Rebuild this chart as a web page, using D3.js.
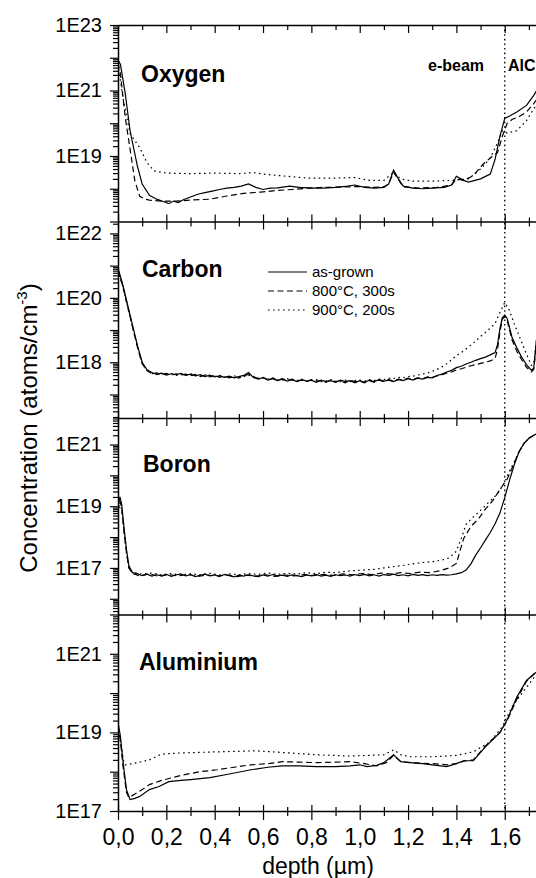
<!DOCTYPE html>
<html lang="en">
<head>
  <meta charset="UTF-8" />
  <title>SIMS depth profiles</title>
  <script src="https://d3js.org/d3.v7.min.js"></script>
  <style>
    body { margin: 0; background: #fff; }
    svg { display: block; font-family: Arial, "Liberation Sans", sans-serif; }
    .panel-label { font-size: 23px; font-weight: bold; }
    .note { font-size: 16px; font-weight: bold; }
    .legend text { font-size: 15px; }
  </style>
</head>
<body>

<svg width="536" height="878"></svg>

<script>
  // series names
  const seriesNames = ["as-grown", "800°C, 300s", "900°C, 200s"];
  const dashes = [null, "6,3.5", "1.6,3.4"];

  // Oxygen [depth µm, atoms/cm3]
  const oxygenAsGrown = [[0,8.3e21],[0.01,6.3e21],[0.03,8.0e20],[0.05,5.9e19],[0.08,5.0e18],[0.10,1.4e18],[0.13,6.3e17],[0.16,4.8e17],[0.19,4.0e17],[0.21,3.5e17],[0.23,4.2e17],[0.25,3.8e17],[0.27,4.6e17],[0.30,5.6e17],[0.33,6.8e17],[0.36,7.6e17],[0.39,8.5e17],[0.42,9.5e17],[0.45,1.05e18],[0.48,1.1e18],[0.51,1.2e18],[0.54,1.4e18],[0.57,1.1e18],[0.60,9.5e17],[0.63,1.05e18],[0.66,1.07e18],[0.71,1.2e18],[0.75,1.1e18],[0.80,1.05e18],[0.85,1.05e18],[0.90,1.1e18],[0.95,1.2e18],[0.98,1.3e18],[1.02,1.1e18],[1.06,1.05e18],[1.10,1.1e18],[1.12,1.4e18],[1.14,3.7e18],[1.16,2.0e18],[1.18,1.2e18],[1.22,1.05e18],[1.26,1.0e18],[1.30,1.05e18],[1.35,1.1e18],[1.38,1.3e18],[1.40,2.4e18],[1.43,1.8e18],[1.45,1.6e18],[1.50,2.0e18],[1.54,2.8e18],[1.56,7.9e18],[1.58,4.0e19],[1.60,1.4e20],[1.62,1.66e20],[1.65,2.2e20],[1.69,3.5e20],[1.72,7.1e20],[1.74,1.26e21]];
  const oxygen800 = [[0,7.0e21],[0.01,3.2e21],[0.03,1.5e20],[0.05,1.6e19],[0.07,1.7e18],[0.09,5.9e17],[0.11,4.8e17],[0.13,4.5e17],[0.18,4.2e17],[0.24,4.2e17],[0.30,4.5e17],[0.38,4.8e17],[0.45,6.0e17],[0.52,7.2e17],[0.59,7.9e17],[0.66,8.9e17],[0.72,9.5e17],[0.79,1.05e18],[0.85,1.1e18],[0.92,1.12e18],[1.00,1.17e18],[1.06,1.1e18],[1.10,1.15e18],[1.12,1.4e18],[1.14,3.2e18],[1.16,1.9e18],[1.18,1.15e18],[1.25,1.05e18],[1.32,1.1e18],[1.38,1.3e18],[1.40,2.0e18],[1.43,1.8e18],[1.47,2.5e18],[1.51,5.6e18],[1.55,1.0e19],[1.57,1.26e19],[1.59,4.0e19],[1.61,1.0e20],[1.63,1.3e20],[1.66,1.6e20],[1.69,2.2e20],[1.72,4.0e20],[1.74,6.3e20]];
  const oxygen900 = [[0,6.3e21],[0.02,6.3e20],[0.05,4.8e19],[0.09,1.8e19],[0.12,6.3e18],[0.15,3.5e18],[0.20,3.0e18],[0.30,2.9e18],[0.40,3.0e18],[0.50,2.9e18],[0.56,3.1e18],[0.62,2.7e18],[0.70,2.4e18],[0.79,2.1e18],[0.88,2.1e18],[0.98,2.2e18],[1.04,1.8e18],[1.10,1.8e18],[1.14,3.2e18],[1.17,2.0e18],[1.22,1.7e18],[1.30,1.7e18],[1.38,1.8e18],[1.45,2.0e18],[1.50,4.0e18],[1.54,8.7e18],[1.57,2.5e19],[1.59,5.9e19],[1.61,5.0e19],[1.65,5.9e19],[1.69,1.2e20],[1.72,2.8e20],[1.74,4.0e20]];

  // Carbon
  const carbonAsGrown = [[0,8.3e20],[0.02,2.5e20],[0.05,2.9e19],[0.08,3.4e18],[0.10,1.0e18],[0.12,5.8e17],[0.14,4.8e17],[0.16,4.2e17],[0.18,4.6e17],[0.20,4.0e17],[0.22,4.4e17],[0.24,4.1e17],[0.26,4.5e17],[0.28,3.9e17],[0.30,4.3e17],[0.32,3.8e17],[0.34,4.1e17],[0.36,3.6e17],[0.38,4.0e17],[0.40,3.5e17],[0.42,3.8e17],[0.44,3.4e17],[0.46,3.7e17],[0.48,3.3e17],[0.50,3.6e17],[0.52,3.9e17],[0.54,4.8e17],[0.56,3.4e17],[0.58,3.0e17],[0.60,3.3e17],[0.62,2.8e17],[0.64,3.1e17],[0.66,2.7e17],[0.68,3.0e17],[0.70,2.6e17],[0.72,2.9e17],[0.74,2.5e17],[0.76,2.9e17],[0.78,2.6e17],[0.80,2.8e17],[0.82,2.4e17],[0.84,2.8e17],[0.86,2.5e17],[0.88,2.7e17],[0.90,2.4e17],[0.92,2.8e17],[0.94,2.5e17],[0.96,2.7e17],[0.98,2.3e17],[1.00,2.7e17],[1.02,2.4e17],[1.04,2.8e17],[1.06,2.5e17],[1.08,2.9e17],[1.10,2.6e17],[1.12,2.8e17],[1.14,2.5e17],[1.16,2.9e17],[1.18,2.7e17],[1.20,3.1e17],[1.22,2.8e17],[1.24,3.2e17],[1.26,3.0e17],[1.28,3.4e17],[1.30,3.3e17],[1.32,3.9e17],[1.34,4.3e17],[1.36,5.0e17],[1.38,5.6e17],[1.40,6.8e17],[1.42,7.5e17],[1.44,8.8e17],[1.46,1.0e18],[1.48,1.15e18],[1.50,1.3e18],[1.52,1.45e18],[1.54,1.7e18],[1.56,2.0e18],[1.57,3.5e18],[1.58,1.1e19],[1.59,2.4e19],[1.60,2.9e19],[1.61,2.3e19],[1.63,6.0e18],[1.65,2.8e18],[1.67,1.45e18],[1.69,8.5e17],[1.71,5.7e17],[1.72,6.5e17],[1.73,4.0e18],[1.74,2.0e19]];
  const carbon800 = [[0,7.5e20],[0.02,2.3e20],[0.05,2.6e19],[0.08,3.0e18],[0.10,9.0e17],[0.12,5.5e17],[0.14,4.4e17],[0.16,4.7e17],[0.18,4.1e17],[0.20,4.5e17],[0.22,3.9e17],[0.24,4.4e17],[0.26,4.0e17],[0.28,4.3e17],[0.30,3.8e17],[0.32,4.2e17],[0.34,3.6e17],[0.36,4.0e17],[0.38,3.5e17],[0.40,3.9e17],[0.42,3.4e17],[0.44,3.8e17],[0.46,3.3e17],[0.48,3.6e17],[0.50,3.2e17],[0.52,3.7e17],[0.54,4.3e17],[0.56,3.6e17],[0.58,3.1e17],[0.60,3.4e17],[0.62,2.9e17],[0.64,3.2e17],[0.66,2.8e17],[0.68,3.1e17],[0.70,2.7e17],[0.72,3.0e17],[0.74,2.6e17],[0.76,2.8e17],[0.78,2.5e17],[0.80,2.9e17],[0.82,2.6e17],[0.84,2.7e17],[0.86,2.4e17],[0.88,2.8e17],[0.90,2.5e17],[0.92,2.6e17],[0.94,2.3e17],[0.96,2.8e17],[0.98,2.5e17],[1.00,2.6e17],[1.02,2.3e17],[1.04,2.7e17],[1.06,2.4e17],[1.08,2.8e17],[1.10,2.5e17],[1.12,2.9e17],[1.14,2.6e17],[1.16,3.0e17],[1.18,2.8e17],[1.20,3.2e17],[1.22,2.9e17],[1.24,3.3e17],[1.26,3.1e17],[1.28,3.5e17],[1.30,3.4e17],[1.32,3.8e17],[1.34,4.1e17],[1.36,4.6e17],[1.38,5.0e17],[1.40,5.8e17],[1.42,6.3e17],[1.44,7.0e17],[1.46,7.8e17],[1.48,8.5e17],[1.50,9.2e17],[1.52,1.0e18],[1.54,1.1e18],[1.56,1.3e18],[1.57,2.5e18],[1.58,8.5e18],[1.59,2.2e19],[1.60,2.6e19],[1.61,2.0e19],[1.63,5.0e18],[1.65,2.2e18],[1.67,1.2e18],[1.69,7.0e17],[1.71,5.0e17],[1.72,6.0e17],[1.73,3.0e18],[1.74,1.5e19]];
  const carbon900 = [[0,7.0e20],[0.02,2.2e20],[0.05,2.5e19],[0.08,3.2e18],[0.10,9.5e17],[0.12,5.6e17],[0.14,4.5e17],[0.16,4.1e17],[0.18,4.4e17],[0.20,4.2e17],[0.22,4.5e17],[0.24,3.9e17],[0.26,4.2e17],[0.28,4.0e17],[0.30,4.4e17],[0.32,3.9e17],[0.34,3.7e17],[0.36,4.1e17],[0.38,3.7e17],[0.40,3.6e17],[0.42,4.0e17],[0.44,3.5e17],[0.46,3.4e17],[0.48,3.8e17],[0.50,3.4e17],[0.52,3.6e17],[0.54,4.0e17],[0.56,3.5e17],[0.58,3.2e17],[0.60,3.3e17],[0.62,3.0e17],[0.64,3.3e17],[0.66,2.9e17],[0.68,2.8e17],[0.70,3.1e17],[0.72,2.8e17],[0.74,2.7e17],[0.76,3.0e17],[0.78,2.6e17],[0.80,2.7e17],[0.82,2.9e17],[0.84,2.5e17],[0.86,2.6e17],[0.88,2.9e17],[0.90,2.6e17],[0.92,2.5e17],[0.94,2.8e17],[0.96,2.5e17],[0.98,2.7e17],[1.00,2.8e17],[1.02,2.6e17],[1.04,2.9e17],[1.06,2.7e17],[1.08,3.0e17],[1.10,2.9e17],[1.12,3.2e17],[1.14,3.1e17],[1.16,3.4e17],[1.18,3.3e17],[1.20,3.6e17],[1.22,3.7e17],[1.24,4.0e17],[1.26,4.3e17],[1.28,4.6e17],[1.30,5.2e17],[1.32,6.0e17],[1.34,7.2e17],[1.36,9.0e17],[1.38,1.2e18],[1.40,1.6e18],[1.42,2.0e18],[1.44,2.6e18],[1.46,3.4e18],[1.48,4.6e18],[1.50,6.3e18],[1.52,8.5e18],[1.54,1.15e19],[1.56,1.6e19],[1.58,3.5e19],[1.60,7.2e19],[1.62,4.0e19],[1.64,1.5e19],[1.66,6.5e18],[1.68,2.7e18],[1.70,1.2e18],[1.71,8.0e17],[1.72,9.0e17],[1.73,4.0e18],[1.74,2.0e19]];

  // Boron
  const boronAsGrown = [[0,1.0e19],[0.008,2.0e19],[0.015,1.2e19],[0.025,2.0e18],[0.035,4.0e17],[0.045,1.2e17],[0.06,7.0e16],[0.08,6.5e16],[0.10,5.6e16],[0.12,6.3e16],[0.14,5.4e16],[0.16,6.0e16],[0.18,5.5e16],[0.20,6.2e16],[0.22,5.3e16],[0.24,5.9e16],[0.26,6.4e16],[0.28,5.5e16],[0.30,6.0e16],[0.32,5.2e16],[0.34,5.8e16],[0.36,6.3e16],[0.38,5.5e16],[0.40,5.9e16],[0.42,5.3e16],[0.44,6.1e16],[0.46,5.6e16],[0.48,5.1e16],[0.50,5.8e16],[0.52,5.4e16],[0.54,6.0e16],[0.56,5.5e16],[0.58,5.2e16],[0.60,5.9e16],[0.62,5.4e16],[0.64,6.1e16],[0.66,5.5e16],[0.68,5.8e16],[0.70,5.3e16],[0.72,6.0e16],[0.74,5.6e16],[0.76,5.2e16],[0.78,5.9e16],[0.80,5.5e16],[0.82,6.2e16],[0.84,5.4e16],[0.86,5.8e16],[0.88,5.3e16],[0.90,6.0e16],[0.92,5.6e16],[0.94,5.9e16],[0.96,5.4e16],[0.98,6.1e16],[1.00,5.6e16],[1.02,6.2e16],[1.04,5.5e16],[1.06,6.0e16],[1.08,5.4e16],[1.10,6.1e16],[1.12,5.7e16],[1.14,6.3e16],[1.16,5.6e16],[1.18,6.0e16],[1.20,5.5e16],[1.22,6.2e16],[1.24,5.7e16],[1.26,6.1e16],[1.28,5.6e16],[1.30,6.0e16],[1.32,5.7e16],[1.34,6.1e16],[1.36,5.8e16],[1.38,6.0e16],[1.40,6.4e16],[1.42,7.0e16],[1.44,8.5e16],[1.46,1.35e17],[1.48,2.6e17],[1.50,4.5e17],[1.52,8.0e17],[1.54,1.4e18],[1.56,2.7e18],[1.58,6.0e18],[1.60,1.9e19],[1.62,7.0e19],[1.64,2.3e20],[1.66,6.0e20],[1.68,1.1e21],[1.70,1.6e21],[1.72,2.0e21],[1.74,2.4e21]];
  const boron800 = [[0,7.0e18],[0.008,1.5e19],[0.015,9.0e18],[0.025,1.5e18],[0.035,3.2e17],[0.045,1.0e17],[0.06,6.6e16],[0.09,5.5e16],[0.13,6.4e16],[0.17,5.3e16],[0.21,6.1e16],[0.25,5.5e16],[0.29,6.2e16],[0.33,5.3e16],[0.37,5.9e16],[0.41,5.4e16],[0.45,6.0e16],[0.49,5.2e16],[0.53,5.8e16],[0.57,5.4e16],[0.61,6.0e16],[0.65,5.3e16],[0.69,5.9e16],[0.73,5.5e16],[0.77,6.1e16],[0.81,5.6e16],[0.85,6.2e16],[0.89,5.7e16],[0.93,6.4e16],[0.97,6.0e16],[1.01,6.6e16],[1.05,6.1e16],[1.09,6.8e16],[1.13,6.3e16],[1.17,7.0e16],[1.21,6.6e16],[1.25,7.3e16],[1.29,7.0e16],[1.33,8.0e16],[1.37,1.0e17],[1.40,1.4e17],[1.43,9.0e17],[1.46,2.2e18],[1.49,3.8e18],[1.52,8.0e18],[1.55,1.5e19],[1.58,3.5e19],[1.61,7.5e19],[1.64,2.6e20],[1.66,6.0e20],[1.68,1.1e21],[1.70,1.6e21],[1.72,2.0e21],[1.74,2.4e21]];
  const boron900 = [[0,6.0e18],[0.008,1.3e19],[0.015,8.0e18],[0.025,1.4e18],[0.035,3.0e17],[0.045,1.0e17],[0.06,7.0e16],[0.10,6.3e16],[0.14,6.8e16],[0.18,6.0e16],[0.22,6.6e16],[0.26,5.8e16],[0.30,6.5e16],[0.34,6.0e16],[0.38,6.7e16],[0.42,5.9e16],[0.46,6.4e16],[0.50,6.0e16],[0.54,6.6e16],[0.58,6.1e16],[0.62,6.8e16],[0.66,6.2e16],[0.70,6.7e16],[0.74,6.3e16],[0.78,7.0e16],[0.82,6.5e16],[0.86,7.3e16],[0.90,7.0e16],[0.94,7.8e16],[0.98,8.2e16],[1.02,8.6e16],[1.06,9.0e16],[1.10,1.0e17],[1.14,1.1e17],[1.18,1.2e17],[1.22,1.35e17],[1.26,1.5e17],[1.30,1.6e17],[1.34,1.8e17],[1.37,2.1e17],[1.40,3.5e17],[1.42,9.0e17],[1.44,2.6e18],[1.47,4.5e18],[1.51,8.7e18],[1.54,1.5e19],[1.57,2.5e19],[1.60,6.0e19],[1.62,1.4e20],[1.64,2.8e20],[1.66,6.0e20],[1.68,1.1e21],[1.70,1.6e21],[1.72,2.0e21],[1.74,2.4e21]];

  // Aluminium
  const aluAsGrown = [[0,1.8e19],[0.01,8.0e18],[0.02,2.0e18],[0.035,3.5e17],[0.05,1.95e17],[0.07,2.1e17],[0.09,2.35e17],[0.13,3.5e17],[0.17,4.2e17],[0.21,5.6e17],[0.26,6.0e17],[0.30,6.3e17],[0.38,7.1e17],[0.45,8.5e17],[0.55,1.12e18],[0.62,1.3e18],[0.68,1.4e18],[0.75,1.4e18],[0.82,1.35e18],[0.90,1.35e18],[0.96,1.4e18],[1.00,1.5e18],[1.03,1.35e18],[1.07,1.45e18],[1.10,1.7e18],[1.14,2.7e18],[1.17,1.8e18],[1.21,1.7e18],[1.26,1.6e18],[1.30,1.5e18],[1.36,1.35e18],[1.40,1.6e18],[1.43,1.9e18],[1.47,1.9e18],[1.52,4.3e18],[1.58,9.8e18],[1.61,2.1e19],[1.65,7.9e19],[1.69,2.1e20],[1.73,3.4e20],[1.75,3.8e20]];
  const alu800 = [[0,1.5e19],[0.01,6.0e18],[0.02,1.5e18],[0.035,3.0e17],[0.045,2.2e17],[0.07,2.7e17],[0.10,3.5e17],[0.13,4.7e17],[0.18,6.0e17],[0.27,8.3e17],[0.34,1.0e18],[0.41,1.12e18],[0.48,1.3e18],[0.55,1.5e18],[0.62,1.6e18],[0.68,1.8e18],[0.75,1.75e18],[0.82,1.7e18],[0.90,1.75e18],[0.96,1.8e18],[1.02,1.6e18],[1.07,1.4e18],[1.11,1.7e18],[1.14,2.6e18],[1.17,1.8e18],[1.21,1.7e18],[1.30,1.6e18],[1.36,1.5e18],[1.40,1.6e18],[1.43,1.85e18],[1.47,2.0e18],[1.52,4.5e18],[1.58,1.0e19],[1.61,2.0e19],[1.65,7.0e19],[1.69,2.0e20],[1.73,3.5e20],[1.75,3.9e20]];
  const alu900 = [[0,1.5e19],[0.01,6.0e18],[0.025,1.6e18],[0.03,1.5e18],[0.06,1.6e18],[0.13,2.0e18],[0.18,2.8e18],[0.26,3.0e18],[0.41,3.2e18],[0.57,3.4e18],[0.71,3.0e18],[0.82,2.7e18],[0.96,2.5e18],[1.10,2.7e18],[1.14,3.6e18],[1.17,2.7e18],[1.21,2.4e18],[1.30,2.4e18],[1.40,2.6e18],[1.47,3.2e18],[1.54,5.8e18],[1.59,1.4e19],[1.63,4.5e19],[1.69,1.4e20],[1.73,2.9e20],[1.75,3.4e20]];

  // y domains (log10) and labelled decades per panel
  const elementNames = ["Oxygen", "Carbon", "Boron", "Aluminium"];
  const yExtents = [[17, 23], [16.27, 22.37], [15.49, 21.86], [17, 22]];
  const yLabelled = [[19, 21, 23], [18, 20, 22], [17, 19, 21], [17, 19, 21]];
  const depthTicks = d3.range(0, 18).map(i => i / 10);
  const depthLabels = d3.range(0, 9).map(i => i / 5);

  const svg = d3.select("svg");
  const left = 118, right = 541;
  const bounds = [25, 221.5, 418, 614.5, 811];

  const x = d3.scaleLinear().domain([0, 1.75]).range([left, right]);
  const line = (y) => d3.line().x(d => x(d[0])).y(d => y(d[1]));

  const panels = [
    [oxygenAsGrown, oxygen800, oxygen900],
    [carbonAsGrown, carbon800, carbon900],
    [boronAsGrown, boron800, boron900],
    [aluAsGrown, alu800, alu900]
  ];

  svg.append("clipPath").attr("id", "clip")
     .append("rect").attr("x", left).attr("y", bounds[0])
     .attr("width", right - left).attr("height", bounds[4] - bounds[0]);

  panels.forEach((series, i) => {
    const top = bounds[i], bottom = bounds[i + 1];
    const [lo, hi] = yExtents[i];
    const y = d3.scaleLog().domain([Math.pow(10, lo), Math.pow(10, hi)]).range([bottom, top]);

    // log ticks: decades and 2..9
    const ticks = [];
    for (let e = Math.floor(lo); e <= Math.ceil(hi); e++) {
      for (let m = 1; m <= 9; m++) {
        const lv = e + Math.log10(m);
        if (lv >= lo - 1e-6 && lv <= hi + 1e-6) ticks.push({ e: e, m: m, v: m * Math.pow(10, e) });
      }
    }
    const yAxis = svg.append("g")
      .attr("transform", `translate(${left},0)`)
      .call(d3.axisLeft(y).tickValues(ticks.map(t => t.v)).tickSize(8).tickPadding(8).tickSizeOuter(0)
        .tickFormat((v, k) => (ticks[k].m === 1 && yLabelled[i].includes(ticks[k].e)) ? "1E" + ticks[k].e : ""))
      .attr("font-family", null).attr("font-size", 20);
    yAxis.select(".domain").attr("stroke-width", 1.5);
    yAxis.selectAll(".tick line").attr("stroke-width", 1.2)
      .attr("x2", (v, k) => ticks[k].m === 1 ? -8 : -5);

    svg.append("g").attr("clip-path", "url(#clip)")
      .selectAll("path").data(series).enter().append("path")
      .attr("d", d => line(y)(d))
      .attr("fill", "none")
      .attr("stroke", "#000")
      .attr("stroke-width", 1.2)
      .attr("stroke-dasharray", (d, k) => dashes[k]);

    const lx = [141, 142, 143, 139][i];
    const ly = [82, 277, 472, 670][i];
    svg.append("text").attr("class", "panel-label").attr("x", lx).attr("y", ly).text(elementNames[i]);
  });

  // horizontal axes with crossing ticks
  bounds.forEach((yPos, i) => {
    const up = i === 0 ? [0, 0] : (i === 4 ? [6, 4] : [7, 4]);
    const down = i === 4 ? [9, 5] : [8, 5];
    const g = svg.append("g").attr("transform", `translate(0,${yPos})`)
      .call(d3.axisBottom(x).tickValues(depthTicks).tickFormat("").tickSizeOuter(0));
    g.select(".domain").attr("stroke-width", 1.5);
    g.selectAll(".tick line").attr("stroke-width", 1.2)
      .attr("y1", d => -(Math.round(d * 10) % 2 === 0 ? up[0] : up[1]))
      .attr("y2", d => (Math.round(d * 10) % 2 === 0 ? down[0] : down[1]));
  });

  // depth labels
  svg.append("g").attr("transform", `translate(0,${bounds[4]})`)
    .call(d3.axisBottom(x).tickValues(depthLabels).tickSize(9).tickPadding(9)
      .tickFormat(d => d3.format(".1f")(d).replace(".", ",")))
    .attr("font-family", null).attr("font-size", 23)
    .call(g => g.select(".domain").remove())
    .call(g => g.selectAll(".tick line").remove());

  // interface marker at 1.6 µm
  svg.append("line")
    .attr("x1", x(1.6)).attr("x2", x(1.6))
    .attr("y1", bounds[0]).attr("y2", bounds[4])
    .attr("stroke", "#000").attr("stroke-width", 1.3)
    .attr("stroke-dasharray", "1.6,3");

  svg.append("text").attr("class", "note").attr("x", 428).attr("y", 71).text("e-beam");
  svg.append("text").attr("class", "note").attr("x", 508).attr("y", 71).text("AlC");

  // legend
  const legend = svg.append("g").attr("class", "legend");
  seriesNames.forEach((name, k) => {
    const ly = 272 + k * 19;
    legend.append("line")
      .attr("x1", 268).attr("x2", 307).attr("y1", ly).attr("y2", ly)
      .attr("stroke", "#000").attr("stroke-width", 1.2)
      .attr("stroke-dasharray", dashes[k]);
    legend.append("text").attr("x", 312).attr("y", ly + 5).text(name);
  });

  // axis titles
  svg.append("text")
    .attr("x", 318).attr("y", 874)
    .attr("text-anchor", "middle")
    .attr("font-size", 23)
    .text("depth (µm)");

  const yTitle = svg.append("text")
    .attr("transform", "translate(37,428) rotate(-90)")
    .attr("text-anchor", "middle")
    .attr("font-size", 24);
  yTitle.append("tspan").text("Concentration (atoms/cm");
  yTitle.append("tspan").attr("font-size", 15).attr("dy", -10).text("-3");
  yTitle.append("tspan").attr("dy", 10).text(")");
</script>

</body>
</html>
